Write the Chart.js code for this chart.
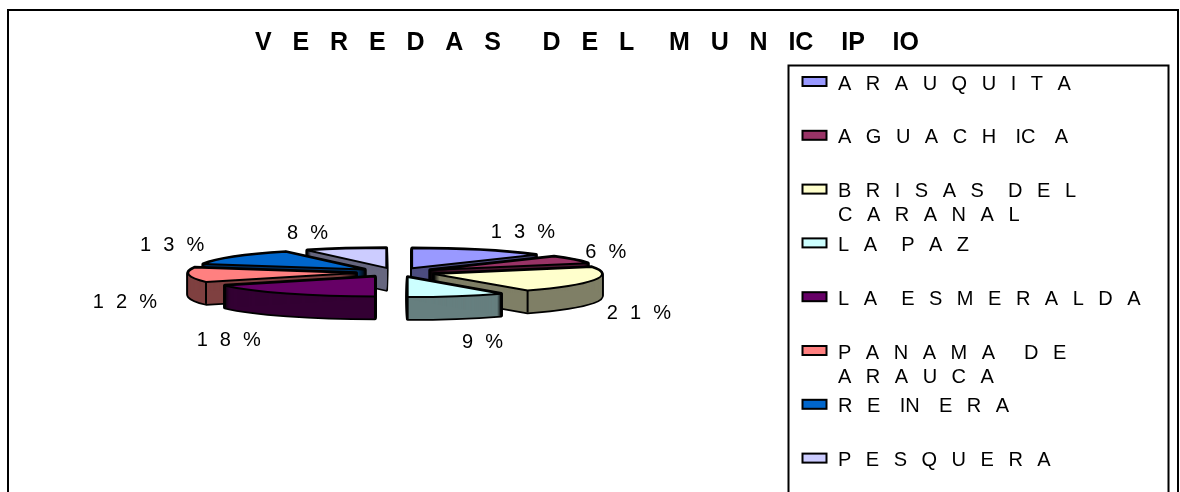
<!DOCTYPE html>
<html>
<head>
<meta charset="utf-8">
<style>
    body { margin: 0; background: #fff; }
    canvas { display: block; }
</style>
<script src="https://cdn.jsdelivr.net/npm/chart.js@4"></script>
</head>
<body>
<canvas id="veredasChart" width="1180" height="492"></canvas>
<script>
const veredas = [
    'A   R   A   U   Q   U   I   T   A',
    'A   G   U   A   C   H    IC    A',
    ['B   R   I   S   A   S     D   E   L', 'C   A   R   A   N   A   L'],
    'L   A     P   A   Z',
    'L   A     E   S   M   E   R   A   L   D   A',
    ['P   A   N   A   M   A      D   E', 'A   R   A   U   C   A'],
    'R   E    IN    E   R   A',
    'P   E   S   Q   U   E   R   A'
];
// the printed labels are these rounded
const porcentajes = [13.2, 6.2, 21.2, 9.4, 17.6, 11.8, 12.8, 7.8];
const colores = ['#9999FF', '#993366', '#FFFFCC', '#CCFFFF', '#660066', '#FF8080', '#0066CC', '#CCCCFF'];
const titulo = 'V   E   R   E   D   A   S      D   E   L     M   U   N   IC    IP    IO';

// label shift from the rim of each slice
const labelShift = [[43, -19], [32, -9], [45, 32], [26, 45], [-58, 45], [-64, 26], [-62, -13], [-38, -17]];

const FONT = '"Liberation Sans", Arial, sans-serif';
const center = { x: 396, y: 272.5 };
const explode = 40;
const tilt = 0.119;
const depth = 22;

const darken = (hex) => {
    const n = parseInt(hex.slice(1), 16);
    return `rgb(${(n >> 16) >> 1}, ${((n >> 8) & 255) >> 1}, ${(n & 255) >> 1})`;
};

const sectorPath = (ctx, arc, dy) => {
    const mid = (arc.startAngle + arc.endAngle) / 2;
    const x = center.x + Math.cos(mid) * explode;
    const y = center.y + Math.sin(mid) * explode * tilt + dy;
    ctx.beginPath();
    ctx.moveTo(x, y);
    ctx.ellipse(x, y, arc.outerRadius, arc.outerRadius * tilt, 0, arc.startAngle, arc.endAngle);
    ctx.closePath();
};

// pie laid flat: walls and outlines here, the top face is the library's own arc
const pie3d = {
    id: 'pie3d',
    beforeDatasetsDraw(chart) {
        const ctx = chart.ctx;
        const arcs = chart.getDatasetMeta(0).data;
        const backToFront = arcs.map((arc, i) => i).sort((a, b) => {
            const ya = Math.sin((arcs[a].startAngle + arcs[a].endAngle) / 2);
            const yb = Math.sin((arcs[b].startAngle + arcs[b].endAngle) / 2);
            return ya - yb;
        });
        backToFront.forEach((i) => {
            const arc = arcs[i];
            const mid = (arc.startAngle + arc.endAngle) / 2;
            ctx.save();
            ctx.lineJoin = 'round';
            ctx.strokeStyle = '#000';
            ctx.lineWidth = 3.5;
            for (let d = 0; d <= depth; d++) {
                sectorPath(ctx, arc, d);
                ctx.stroke();
            }
            ctx.fillStyle = darken(colores[i]);
            for (let d = 0; d <= depth; d++) {
                sectorPath(ctx, arc, d);
                ctx.fill();
            }
            // front corners of the wall
            ctx.lineWidth = 2;
            [arc.startAngle, arc.endAngle].forEach((a) => {
                if (Math.sin(a) <= 0) return;
                const x = center.x + Math.cos(mid) * explode + Math.cos(a) * arc.outerRadius;
                const y = center.y + (Math.sin(mid) * explode + Math.sin(a) * arc.outerRadius) * tilt;
                ctx.beginPath();
                ctx.moveTo(x, y);
                ctx.lineTo(x, y + depth);
                ctx.stroke();
            });
            ctx.restore();

            ctx.save();
            ctx.translate(center.x, center.y);
            ctx.scale(1, tilt);
            ctx.translate(Math.cos(mid) * explode - arc.x, Math.sin(mid) * explode - arc.y);
            arc.draw(ctx);
            ctx.restore();

            ctx.save();
            ctx.lineJoin = 'round';
            ctx.strokeStyle = '#000';
            ctx.lineWidth = 2;
            sectorPath(ctx, arc, 0);
            ctx.stroke();
            ctx.restore();
        });
        return false;
    }
};

const frameAndLegend = {
    id: 'frameAndLegend',
    beforeDraw(chart) {
        const ctx = chart.ctx;
        ctx.save();
        ctx.fillStyle = '#fff';
        ctx.fillRect(0, 0, 1180, 492);
        ctx.strokeStyle = '#000';
        ctx.lineWidth = 2;
        ctx.strokeRect(8, 10, 1170, 500);
        ctx.strokeRect(788.5, 65.5, 380, 450);
        ctx.restore();
    },
    afterDraw(chart) {
        const ctx = chart.ctx;
        ctx.save();
        ctx.font = `20px ${FONT}`;
        ctx.textBaseline = 'middle';
        ctx.wordSpacing = '-0.72px';
        veredas.forEach((label, i) => {
            const y = 82.5 + i * 53.8;
            ctx.fillStyle = colores[i];
            ctx.fillRect(802.5, y - 5.5, 24, 9);
            ctx.strokeStyle = '#000';
            ctx.lineWidth = 2;
            ctx.strokeRect(802.5, y - 5.5, 24, 9);
            ctx.fillStyle = '#000';
            [].concat(label).forEach((line, j) => ctx.fillText(line, 838, y + 1.5 + j * 24));
        });
        ctx.restore();

        // percentage labels
        ctx.save();
        ctx.font = `20px ${FONT}`;
        ctx.fillStyle = '#000';
        ctx.textAlign = 'center';
        ctx.textBaseline = 'middle';
        ctx.wordSpacing = '0.5px';
        chart.getDatasetMeta(0).data.forEach((arc, i) => {
            const mid = (arc.startAngle + arc.endAngle) / 2;
            const x = center.x + Math.cos(mid) * (explode + arc.outerRadius) + labelShift[i][0];
            const y = center.y + Math.sin(mid) * (explode + arc.outerRadius) * tilt + labelShift[i][1];
            ctx.fillText(String(Math.round(porcentajes[i])).split('').join('  ') + '  %', x, y + 1.5);
        });
        ctx.restore();
    }
};

const veredasCtx = document.getElementById('veredasChart').getContext('2d');
new Chart(veredasCtx, {
    type: 'pie',
    data: {
        labels: veredas,
        datasets: [{
            data: porcentajes,
            backgroundColor: colores,
            borderWidth: 0
        }]
    },
    options: {
        responsive: false,
        animation: false,
        radius: 168,
        layout: { padding: { right: 6 } },
        plugins: {
            legend: { display: false },
            tooltip: { enabled: false },
            title: {
                display: true,
                text: titulo,
                color: '#000',
                font: { family: FONT, size: 25, weight: 'bold' },
                padding: { top: 28.5, bottom: 10 }
            }
        }
    },
    plugins: [frameAndLegend, pie3d]
});
</script>
</body>
</html>
